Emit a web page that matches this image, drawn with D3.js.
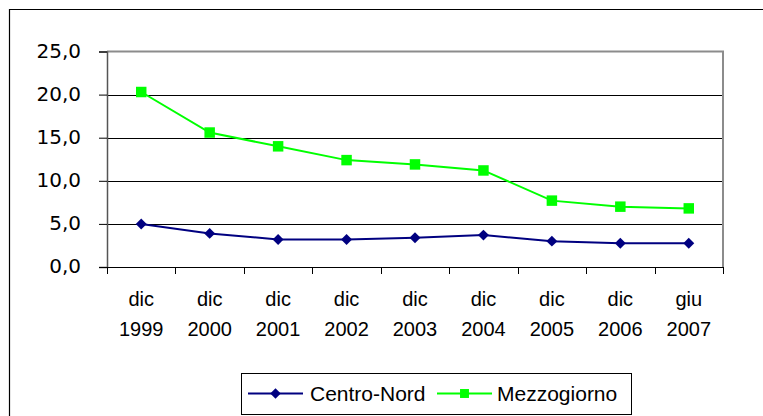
<!DOCTYPE html>
<html>
<head>
<meta charset="utf-8">
<script src="https://cdn.jsdelivr.net/npm/d3@7"></script>
<style>
  html, body { margin: 0; padding: 0; background: #fff; }
  svg { display: block; }
</style>
</head>
<body>
<svg id="chart" width="763" height="416"></svg>
<script>
const categoriesTop = ["dic", "dic", "dic", "dic", "dic", "dic", "dic", "dic", "giu"];
const categoriesBottom = ["1999", "2000", "2001", "2002", "2003", "2004", "2005", "2006", "2007"];
const centroNord = [5.0, 3.9, 3.2, 3.2, 3.4, 3.7, 3.0, 2.75, 2.75];
const mezzogiorno = [20.3, 15.6, 14.0, 12.4, 11.9, 11.2, 7.7, 7.0, 6.8];
const yTicks = [0, 5, 10, 15, 20, 25];
const seriesNames = ["Centro-Nord", "Mezzogiorno"];

const svg = d3.select("#chart");
const m = { left: 107, top: 51.5, right: 723, bottom: 267 };

// outer chart box
svg.append("path")
  .attr("d", "M9.5,416 L9.5,9.5 L763,9.5")
  .attr("fill", "none").attr("stroke", "#000").attr("stroke-width", 1.2);

const x = d3.scaleBand().domain(categoriesBottom.map((d, i) => i)).range([m.left, m.right]).padding(0);
const y = d3.scaleLinear().domain([0, 25]).range([m.bottom, m.top]);

// gridlines
svg.append("g").selectAll("line").data(yTicks.filter(v => v > 0 && v < 25)).join("line")
  .attr("x1", m.left).attr("x2", m.right)
  .attr("y1", d => Math.round(y(d)) + 0.5).attr("y2", d => Math.round(y(d)) + 0.5)
  .attr("stroke", "#000").attr("stroke-width", 1);

// plot frame (gray top/right)
svg.append("path")
  .attr("d", `M${m.left},${m.top} L${m.right},${m.top} L${m.right},${m.bottom}`)
  .attr("fill", "none").attr("stroke", "#8c8c8c").attr("stroke-width", 2);

// y axis
const yAxis = d3.axisLeft(y).tickValues(yTicks).tickSize(8).tickPadding(18)
  .tickFormat(d => d3.format(".1f")(d).replace(".", ","));
const gy = svg.append("g").attr("transform", `translate(${m.left},0)`).call(yAxis);
gy.select(".domain").attr("stroke", "#555").attr("stroke-width", 1.5);
gy.selectAll(".tick line").attr("stroke", "#000");
gy.selectAll(".tick text").attr("font-family", "DejaVu Sans, sans-serif").attr("font-size", 20)
  .attr("fill", "#000").attr("dy", "0.28em");

// x axis with ticks at band boundaries
const boundaries = d3.range(categoriesBottom.length + 1).map(i => m.left + i * x.bandwidth());
const gx = svg.append("g");
gx.append("line").attr("x1", m.left).attr("x2", m.right)
  .attr("y1", m.bottom + 0.5).attr("y2", m.bottom + 0.5).attr("stroke", "#000").attr("stroke-width", 1);
gx.selectAll("line.tk").data(boundaries).join("line").attr("class", "tk")
  .attr("x1", d => Math.round(d) + 0.5).attr("x2", d => Math.round(d) + 0.5)
  .attr("y1", m.bottom).attr("y2", m.bottom + 7).attr("stroke", "#000");
const labels = gx.selectAll("text").data(categoriesBottom).join("text")
  .attr("x", (d, i) => x(i) + x.bandwidth() / 2)
  .attr("text-anchor", "middle")
  .attr("font-family", "Liberation Sans, Arial, sans-serif").attr("font-size", 20).attr("fill", "#000");
labels.append("tspan").attr("x", (d, i) => x(i) + x.bandwidth() / 2).attr("y", 306).text((d, i) => categoriesTop[i]);
labels.append("tspan").attr("x", (d, i) => x(i) + x.bandwidth() / 2).attr("y", 336).text(d => d);

const line = d3.line().x((d, i) => x(i) + x.bandwidth() / 2).y(d => y(d));
const colors = ["#000080", "#00ff00"];

// Mezzogiorno
svg.append("path").datum(mezzogiorno).attr("d", line)
  .attr("fill", "none").attr("stroke", colors[1]).attr("stroke-width", 2);
svg.append("g").selectAll("path").data(mezzogiorno).join("path")
  .attr("transform", (d, i) => `translate(${x(i) + x.bandwidth() / 2},${y(d)})`)
  .attr("d", d3.symbol(d3.symbolSquare, 110)).attr("fill", colors[1]);

// Centro-Nord
svg.append("path").datum(centroNord).attr("d", line)
  .attr("fill", "none").attr("stroke", colors[0]).attr("stroke-width", 2);
svg.append("g").selectAll("path").data(centroNord).join("path")
  .attr("transform", (d, i) => `translate(${x(i) + x.bandwidth() / 2},${y(d)}) rotate(45)`)
  .attr("d", d3.symbol(d3.symbolSquare, 60)).attr("fill", colors[0]);

// legend
const lg = svg.append("g");
lg.append("rect").attr("x", 241.5).attr("y", 373.5).attr("width", 390).attr("height", 41)
  .attr("fill", "#fff").attr("stroke", "#000").attr("stroke-width", 1);
const legendItems = [
  { name: seriesNames[0], x1: 248, x2: 303, tx: 310, color: colors[0], diamond: true },
  { name: seriesNames[1], x1: 437, x2: 492, tx: 497, color: colors[1], diamond: false }
];
legendItems.forEach(it => {
  lg.append("line").attr("x1", it.x1).attr("x2", it.x2).attr("y1", 393.5).attr("y2", 393.5)
    .attr("stroke", it.color).attr("stroke-width", 2);
  const cx = (it.x1 + it.x2) / 2;
  lg.append("path")
    .attr("transform", `translate(${cx},393.5)` + (it.diamond ? " rotate(45)" : ""))
    .attr("d", d3.symbol(d3.symbolSquare, it.diamond ? 55 : 80)).attr("fill", it.color);
  lg.append("text").attr("x", it.tx).attr("y", 400.5)
    .attr("font-family", "Liberation Sans, Arial, sans-serif").attr("font-size", 21).attr("fill", "#000")
    .text(it.name);
});
</script>
</body>
</html>
